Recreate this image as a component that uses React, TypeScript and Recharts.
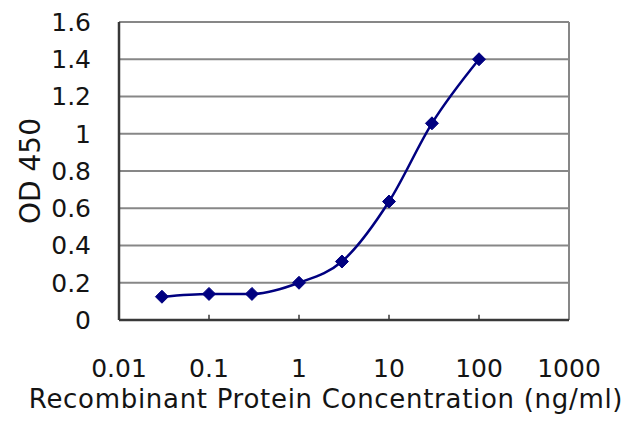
import React from 'react';
import { LineChart, Line, XAxis, YAxis, CartesianGrid, ReferenceLine } from 'recharts';

const concentrations = [0.03, 0.1, 0.3, 1, 3, 10, 30, 100];
const odValues = [0.125, 0.14, 0.14, 0.2, 0.314, 0.636, 1.056, 1.4];
const xTicks = [0.01, 0.1, 1, 10, 100, 1000];
const innerTicks = [0.1, 1, 10, 100];
const innerTickHeight = 0.028;
const yTicks = [0, 0.2, 0.4, 0.6, 0.8, 1, 1.2, 1.4, 1.6];
const xTitle = 'Recombinant Protein Concentration (ng/ml)';
const yTitle = 'OD 450';

const data = concentrations.map((c, i) => ({ conc: c, od: odValues[i] }));

const FONT = '"DejaVu Sans", "Liberation Sans", sans-serif';
const TEXT = '#141414';
const GRID = '#878787';
const AXIS = '#383838';
const NAVY = '#000080';

const Diamond = (props: any) => {
  const { cx, cy, index } = props;
  if (cx == null || cy == null) return null;
  const r = 6.5;
  return (
    <path
      key={`d-${index}`}
      d={`M${cx},${cy - r}L${cx + r},${cy}L${cx},${cy + r}L${cx - r},${cy}Z`}
      fill={NAVY}
      stroke={NAVY}
      strokeWidth={1}
    />
  );
};

const XTitle = (props: any) => {
  const vb = props.viewBox || {};
  return (
    <text
      x={vb.x + vb.width / 2 - 18}
      y={vb.y + vb.height - 19}
      textAnchor="middle"
      style={{ fontFamily: FONT, fontSize: 26, letterSpacing: '0.7px', fill: TEXT }}
    >
      {xTitle}
    </text>
  );
};

const YTitle = (props: any) => {
  const vb = props.viewBox || {};
  const cx = 30;
  const cy = vb.y + vb.height / 2;
  return (
    <text
      x={cx}
      y={cy}
      transform={`rotate(-90, ${cx}, ${cy})`}
      textAnchor="middle"
      dominantBaseline="central"
      style={{ fontFamily: FONT, fontSize: 28, fill: TEXT }}
    >
      {yTitle}
    </text>
  );
};

export default function App() {
  return (
    <div style={{ position: 'absolute', left: 0, top: 0, width: 640, height: 427, background: '#fff' }}>
      <LineChart width={640} height={427} data={data} margin={{ top: 22, right: 71, bottom: 0, left: 0 }}>
        <CartesianGrid horizontal vertical={false} stroke={GRID} strokeWidth={2} />
        <ReferenceLine x={1000} stroke={GRID} strokeWidth={2} />
        {innerTicks.map((t) => (
          <ReferenceLine
            key={`t-${t}`}
            segment={[
              { x: t, y: 0 },
              { x: t, y: innerTickHeight },
            ]}
            stroke={AXIS}
            strokeWidth={1.5}
          />
        ))}
        <XAxis
          dataKey="conc"
          type="number"
          scale="log"
          domain={[0.01, 1000]}
          ticks={xTicks}
          allowDataOverflow
          interval={0}
          height={107}
          tickLine={false}
          tickSize={0}
          tickMargin={39}
          stroke={AXIS}
          strokeWidth={2.5}
          tick={{ fill: TEXT, fontSize: 25, fontFamily: FONT }}
          tickFormatter={(v: number) => String(v)}
          label={{ content: XTitle }}
        />
        <YAxis
          type="number"
          domain={[0, 1.6]}
          ticks={yTicks}
          interval={0}
          width={119}
          tickLine={false}
          tickMargin={22}
          stroke={AXIS}
          strokeWidth={2.5}
          tick={{ fill: TEXT, fontSize: 25, fontFamily: FONT }}
          label={{ content: YTitle }}
        />
        <Line
          type="monotone"
          dataKey="od"
          stroke={NAVY}
          strokeWidth={2.5}
          dot={Diamond}
          activeDot={false}
          isAnimationActive={false}
        />
      </LineChart>
    </div>
  );
}
